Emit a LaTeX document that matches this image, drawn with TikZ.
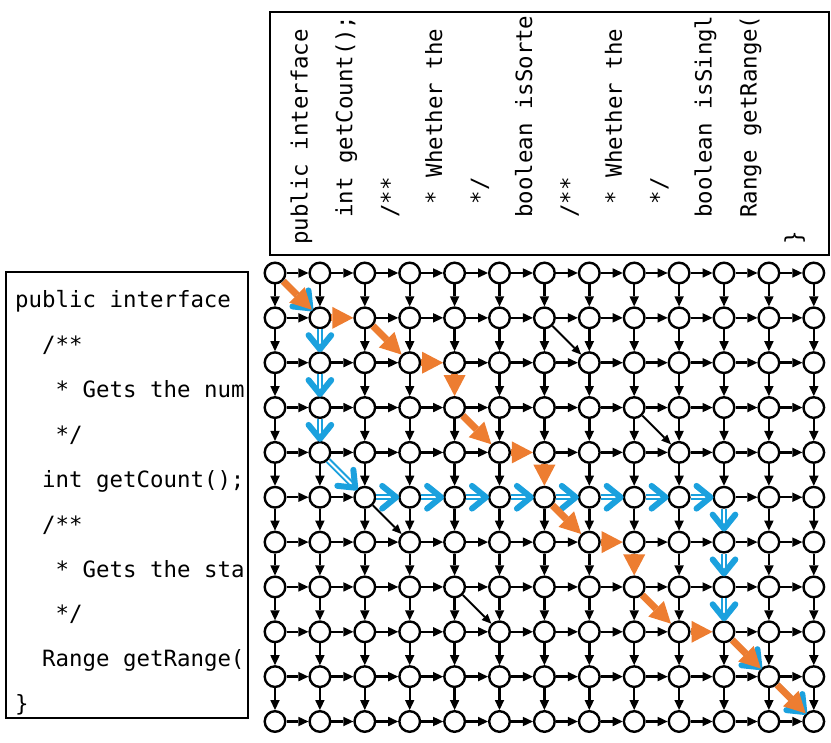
\documentclass[tikz,border=0pt]{standalone}
\usepackage{fontspec}
\setmonofont{DejaVu Sans Mono}
\usetikzlibrary{arrows.meta,calc}
\definecolor{pathorange}{RGB}{237,125,49}
\definecolor{pathblue}{RGB}{27,161,222}
\def\defskip#1{\expandafter\def\csname skip#1\endcsname{}}
\defskip{H1-1}\defskip{H2-3}\defskip{H4-5}\defskip{H6-7}\defskip{H8-9}
\defskip{H5-2}\defskip{H5-3}\defskip{H5-4}\defskip{H5-5}\defskip{H5-6}\defskip{H5-7}\defskip{H5-8}\defskip{H5-9}
\defskip{V2-4}\defskip{V4-6}\defskip{V6-8}
\defskip{V1-1}\defskip{V2-1}\defskip{V3-1}\defskip{V5-10}\defskip{V6-10}\defskip{V7-10}
\newcommand\bluearr[2]{%
  \coordinate (bt) at ($(#2)!13.5pt!(#1)$);
  \coordinate (bs) at ($(#1)!11.5pt!(#2)$);
  \draw[bshaft] (bs) -- ($(bt)!2pt!(bs)$);
  \draw[bhead] ($(bt)!18pt!39:(bs)$) -- (bt) -- ($(bt)!18pt!-39:(bs)$);
}
\begin{document}
\begin{tikzpicture}[x=1pt,y=-1pt,
  cnode/.style={circle,draw=black,fill=white,line width=2.4pt,minimum size=20.6pt,inner sep=0pt},
  edge/.style={line width=2.4pt,-{Triangle[length=10pt,width=9.5pt,line width=0pt]}},
  diag/.style={line width=1.9pt,-{Triangle[length=9.5pt,width=8.5pt,line width=0pt]}},
  oarrow/.style={draw=pathorange,fill=pathorange,line width=7pt,-{Triangle[length=21pt,width=22pt,line width=0pt]}},
  bshaft/.style={draw=pathblue,line width=2pt,double=white,double distance=2pt},
  bhead/.style={draw=pathblue,line width=6pt,line cap=round,line join=round},
  codebox/.style={draw=black,line width=2.6pt,inner sep=0pt},
  code/.style={font=\ttfamily\fontsize{22.4}{26}\selectfont,inner sep=0pt,anchor=base west},
]
\useasboundingbox (0,0) rectangle (831,743);

% code boxes
\node[codebox,minimum width=242pt,minimum height=446pt] (leftbox) at (127,495) {};
\node[codebox,minimum width=559pt,minimum height=243pt] (topbox) at (549.5,133.5) {};

% left code
\foreach \i/\k/\t in {0/0/{public interface},1/2/{/**},2/3/{* Gets the num},3/3/{*/},4/2/{int getCount();},5/2/{/**},6/3/{* Gets the sta},7/3/{*/},8/2/{Range getRange(},9/0/{\}}}{
  \node[code] (l\i) at ({15+13.5*\k},{308+44.85*\i}) {\t};
}
% top code
\foreach \j/\k/\t in {0/0/{public interface},1/2/{int getCount();},2/2/{/**},3/3/{* Whether the},4/3/{*/},5/2/{boolean isSorte},6/2/{/**},7/3/{* Whether the},8/3/{*/},9/2/{boolean isSingl},10/2/{Range getRange(},11/0/{\}}}{
  \node[code,rotate=90] (t\j) at ({307.5+44.9*\j},{245-13.5*\k}) {\t};
}

% grid nodes
\foreach \i in {0,...,10}{
  \foreach \j in {0,...,12}{
    \node[cnode] (n\i-\j) at ({275+44.9*\j},{273+44.85*\i}) {};
  }
}

% black edges
\foreach \i in {0,...,10}{
  \foreach \j in {0,...,11}{
    \pgfmathtruncatemacro\jn{\j+1}
    \ifcsname skipH\i-\j\endcsname\else
      \draw[edge] (n\i-\j) -- (n\i-\jn);
    \fi
  }
}
\foreach \i in {0,...,9}{
  \foreach \j in {0,...,12}{
    \pgfmathtruncatemacro\in{\i+1}
    \ifcsname skipV\i-\j\endcsname\else
      \draw[edge] (n\i-\j) -- (n\in-\j);
    \fi
  }
}
\draw[diag] (n1-6) -- (n2-7);
\draw[diag] (n3-8) -- (n4-9);
\draw[diag] (n5-2) -- (n6-3);
\draw[diag] (n7-4) -- (n8-5);

% blue path
\bluearr{n0-0}{n1-1}
\bluearr{n1-1}{n2-1}
\bluearr{n2-1}{n3-1}
\bluearr{n3-1}{n4-1}
\bluearr{n4-1}{n5-2}
\foreach \j in {2,...,9}{
  \pgfmathtruncatemacro\jn{\j+1}
  \bluearr{n5-\j}{n5-\jn}
}
\bluearr{n5-10}{n6-10}
\bluearr{n6-10}{n7-10}
\bluearr{n7-10}{n8-10}
\bluearr{n8-10}{n9-11}
\bluearr{n9-11}{n10-12}

% orange path
\draw[oarrow] (n0-0) -- (n1-1);
\draw[oarrow] (n1-1) -- (n1-2);
\draw[oarrow] (n1-2) -- (n2-3);
\draw[oarrow] (n2-3) -- (n2-4);
\draw[oarrow] (n2-4) -- (n3-4);
\draw[oarrow] (n3-4) -- (n4-5);
\draw[oarrow] (n4-5) -- (n4-6);
\draw[oarrow] (n4-6) -- (n5-6);
\draw[oarrow] (n5-6) -- (n6-7);
\draw[oarrow] (n6-7) -- (n6-8);
\draw[oarrow] (n6-8) -- (n7-8);
\draw[oarrow] (n7-8) -- (n8-9);
\draw[oarrow] (n8-9) -- (n8-10);
\draw[oarrow] (n8-10) -- (n9-11);
\draw[oarrow] (n9-11) -- (n10-12);
\end{tikzpicture}
\end{document}
